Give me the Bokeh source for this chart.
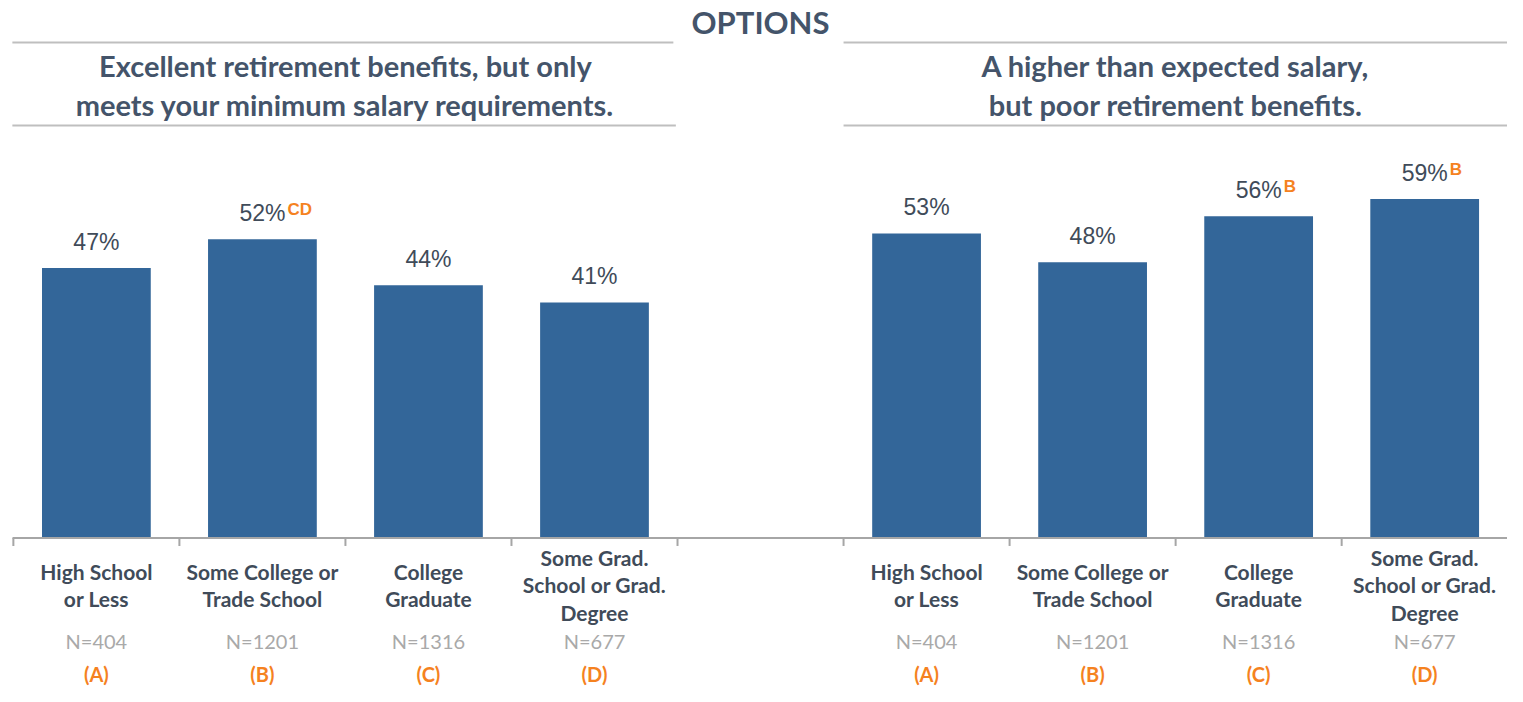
from bokeh.plotting import figure
from bokeh.models import Range1d, ColumnDataSource
from bokeh.core.properties import value
from bokeh.embed import file_html
from bokeh.resources import INLINE

# ---------------- data ----------------
header = "OPTIONS"
panel_titles = [
    "Excellent retirement benefits, but only\nmeets your minimum salary requirements.",
    "A higher than expected salary,\nbut poor retirement benefits.",
]
categories = [
    "High School\nor Less",
    "Some College or\nTrade School",
    "College\nGraduate",
    "Some Grad.\nSchool or Grad.\nDegree",
]
sample_sizes = ["N=404", "N=1201", "N=1316", "N=677"]
group_letters = ["(A)", "(B)", "(C)", "(D)"]
left_values = [47, 52, 44, 41]
left_sig = ["", "CD", "", ""]
right_values = [53, 48, 56, 59]
right_sig = ["", "", "B", " B"]

# ---------------- styling ----------------
BAR = "#336699"
DARK = "#404b59"
HEAD = "#44546a"
GRAY_TXT = "#a9a9a9"
ORANGE = "#f5821f"
RULE = "#bfbfbf"
AXIS = "#a6a6a6"
LABEL_FONT = value("Lato")
NUM_FONT = value("Liberation Sans")

W, H = 1507, 686
SY = H / 702.0
SX = W / 1523.0
PX_PER = 5.88 * SY      # pixels per percentage point
BASE_PX = 550 * SY      # baseline pixel row inside figure
SLOT_PX = 167.8 * SX
X0_PX = 13 * SX

y_top = BASE_PX / PX_PER
y_bot = -(H - BASE_PX) / PX_PER
x_lo = -X0_PX / SLOT_PX
x_hi = (W - X0_PX) / SLOT_PX


def py(ref_row):
    """reference pixel row -> data y"""
    return (BASE_PX - ref_row * SY) / PX_PER


p = figure(width=W, height=H, output_backend="svg", toolbar_location=None,
           x_range=Range1d(x_lo, x_hi), y_range=Range1d(y_bot, y_top),
           x_axis_location=None, y_axis_location=None, min_border=0,
           background_fill_color="white", border_fill_color="white")
p.outline_line_color = None
p.grid.visible = False

left_x = [i + 0.5 for i in range(len(categories))]
right_x = [i + 5.5 for i in range(len(categories))]
all_x = left_x + right_x
all_vals = left_values + right_values
all_sig = left_sig + right_sig

src = ColumnDataSource(dict(
    x=all_x, top=all_vals,
    pct=[f"{v}%" for v in all_vals], sig=all_sig,
    cat=categories * 2, n=sample_sizes * 2, let=group_letters * 2,
))

# bars
p.vbar(x="x", top="top", bottom=0, width=0.655, source=src,
       fill_color=BAR, line_color=None)

# baseline + ticks
p.segment(x0=[-0.005], y0=[0], x1=[x_hi], y1=[0], line_color=AXIS, line_width=2)
ticks = [k for k in range(9)]
p.segment(x0=ticks, y0=[0] * len(ticks), x1=ticks, y1=[-8 / PX_PER] * len(ticks),
          line_color=AXIS, line_width=2)

# value labels
p.text(x="x", y="top", text="pct", source=src, y_offset=-27 * SY,
       text_align="center", text_baseline="middle", text_font=NUM_FONT,
       text_font_size="23px", text_color=DARK)
p.text(x="x", y="top", text="sig", source=src, x_offset=25, y_offset=-30 * SY,
       text_align="left", text_baseline="middle", text_font=NUM_FONT,
       text_font_size="17px", text_font_style="bold", text_color=ORANGE)

# category labels
p.text(x="x", y=0, text="cat", source=src, y_offset=48 * SY,
       text_align="center", text_baseline="middle", text_font=LABEL_FONT,
       text_font_size="21px", text_font_style="bold", text_color=DARK,
       text_line_height=1.1)
p.text(x="x", y=0, text="n", source=src, y_offset=105 * SY,
       text_align="center", text_baseline="middle", text_font=LABEL_FONT,
       text_font_size="20px", text_color=GRAY_TXT)
p.text(x="x", y=0, text="let", source=src, y_offset=139 * SY,
       text_align="center", text_baseline="middle", text_font=LABEL_FONT,
       text_font_size="20px", text_font_style="bold", text_color=ORANGE)

# header
p.text(x=[4.5], y=[py(22)], text=[header],
       text_align="center", text_baseline="middle", text_font=LABEL_FONT,
       text_font_size="31px", text_font_style="bold", text_color=HEAD)
p.segment(x0=[-0.006, 5.0], y0=[py(43)] * 2, x1=[3.975, x_hi], y1=[py(43)] * 2,
          line_color=RULE, line_width=2)
p.text(x=[2, 7], y=[py(86.5)] * 2, text=panel_titles,
       text_align="center", text_baseline="middle", text_font=LABEL_FONT,
       text_font_size="29px", text_font_style="bold", text_color=HEAD,
       text_line_height=1.12)
p.segment(x0=[-0.006, 5.0], y0=[py(128)] * 2, x1=[3.99, x_hi], y1=[py(128)] * 2,
          line_color=RULE, line_width=2)

open("out.html", "w").write(file_html(p, INLINE))
